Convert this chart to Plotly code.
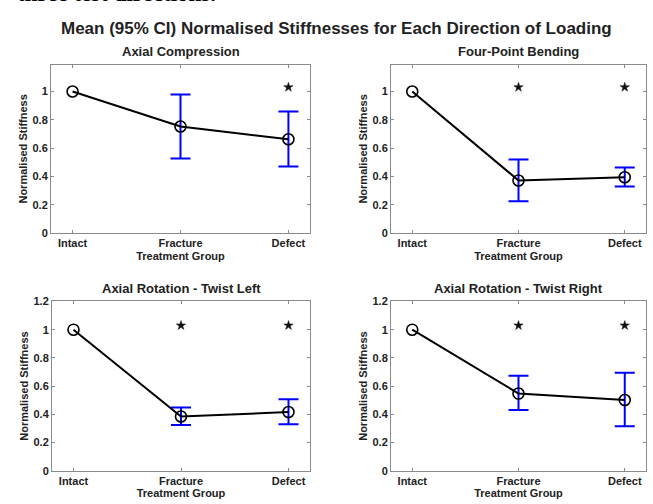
import plotly.graph_objects as go

# ---------------- data ----------------
groups = ["Intact", "Fracture", "Defect"]

panel_titles = [
    "Axial Compression",
    "Four-Point Bending",
    "Axial Rotation - Twist Left",
    "Axial Rotation - Twist Right",
]

# mean normalised stiffness per group
ac_mean = [1.00, 0.753, 0.663]
fpb_mean = [1.00, 0.372, 0.395]
tl_mean = [1.00, 0.384, 0.416]
tr_mean = [1.00, 0.547, 0.501]

# 95% CI bounds for Fracture and Defect (Intact is the reference, no CI)
ci_groups = ["Fracture", "Defect"]
ac_ci_low = [0.527, 0.471]
ac_ci_high = [0.979, 0.859]
fpb_ci_low = [0.226, 0.330]
fpb_ci_high = [0.520, 0.464]
tl_ci_low = [0.324, 0.329]
tl_ci_high = [0.448, 0.506]
tr_ci_low = [0.430, 0.315]
tr_ci_high = [0.674, 0.694]

# significance markers (*)
ac_sig = ["Defect"]
fpb_sig = ["Fracture", "Defect"]
tl_sig = ["Fracture", "Defect"]
tr_sig = ["Fracture", "Defect"]
sig_level = 1.03

y_ticks_top = [0, 0.2, 0.4, 0.6, 0.8, 1]
y_ticks_bottom = [0, 0.2, 0.4, 0.6, 0.8, 1, 1.2]

main_title = "Mean (95% CI) Normalised Stiffnesses for Each Direction of Loading"
x_title = "Treatment Group"
y_title = "Normalised Stiffness"
page_text = "three test directions."

# ---------------- layout geometry ----------------
W, H = 653, 504
FONT = "Arial, 'Liberation Sans', sans-serif"
TXT = "#222222"
AX = "#8a8a8a"

def px_x(p):
    return p / W

def px_y(p):
    return 1 - p / H

panels = [
    dict(mean=ac_mean, lo=ac_ci_low, hi=ac_ci_high, sig=ac_sig,
         xd=(51, 310), yd=(60, 232.7), yr=1.19, yt=y_ticks_top, ty=46.5),
    dict(mean=fpb_mean, lo=fpb_ci_low, hi=fpb_ci_high, sig=fpb_sig,
         xd=(391, 646), yd=(60, 232.7), yr=1.19, yt=y_ticks_top, ty=46.5),
    dict(mean=tl_mean, lo=tl_ci_low, hi=tl_ci_high, sig=tl_sig,
         xd=(52, 310), yd=(302.7, 476), yr=1.2, yt=y_ticks_bottom, ty=289.3),
    dict(mean=tr_mean, lo=tr_ci_low, hi=tr_ci_high, sig=tr_sig,
         xd=(391, 646), yd=(302.7, 476), yr=1.2, yt=y_ticks_bottom, ty=289.3),
]

fig = go.Figure()
annotations = []

for i, (p, title) in enumerate(zip(panels, panel_titles)):
    n = "" if i == 0 else str(i + 1)
    xa, ya = "x" + n, "y" + n
    ci_mean = [p["mean"][groups.index(g)] for g in ci_groups]
    # CI error bars
    fig.add_trace(go.Scatter(
        x=ci_groups, y=ci_mean, mode="markers",
        marker=dict(size=1, opacity=0),
        error_y=dict(type="data", symmetric=False,
                     array=[h - m for h, m in zip(p["hi"], ci_mean)],
                     arrayminus=[m - l for m, l in zip(ci_mean, p["lo"])],
                     color="#0000ff", thickness=2, width=10),
        xaxis=xa, yaxis=ya, showlegend=False, hoverinfo="skip"))
    # mean line + open circles
    fig.add_trace(go.Scatter(
        x=groups, y=p["mean"], mode="lines+markers",
        line=dict(color="black", width=2),
        marker=dict(symbol="circle-open", size=11, color="black",
                    line=dict(width=1.6, color="black")),
        xaxis=xa, yaxis=ya, showlegend=False))
    # significance stars
    fig.add_trace(go.Scatter(
        x=p["sig"], y=[sig_level] * len(p["sig"]), mode="markers",
        marker=dict(symbol="star", size=7, color="#111111",
                    line=dict(width=0.5, color="#111111")),
        xaxis=xa, yaxis=ya, showlegend=False))

    common = dict(showline=True, linecolor=AX, linewidth=1, mirror="ticks",
                  ticks="inside", ticklen=3, tickcolor=AX, showgrid=False,
                  zeroline=False,
                  tickfont=dict(family=FONT, size=11, color=TXT, weight="bold"))
    fig.layout["xaxis" + n] = dict(
        common, domain=[px_x(p["xd"][0]), px_x(p["xd"][1])],
        anchor=ya, type="category", categoryorder="array",
        categoryarray=groups, range=[-0.2, 2.2],
        title=dict(text=x_title, standoff=3,
                   font=dict(family=FONT, size=11, color=TXT, weight="bold")))
    fig.layout["yaxis" + n] = dict(
        common, domain=[px_y(p["yd"][1]), px_y(p["yd"][0])],
        anchor=xa, range=[0, p["yr"]], tickvals=p["yt"],
        title=dict(text=y_title, standoff=2,
                   font=dict(family=FONT, size=11, color=TXT, weight="bold")))
    annotations.append(dict(
        text=title, xref="paper", yref="paper",
        x=px_x((p["xd"][0] + p["xd"][1]) / 2), y=px_y(p["ty"]),
        xanchor="center", yanchor="middle", showarrow=False,
        font=dict(family=FONT, size=13, color=TXT, weight="bold")))

annotations.append(dict(
    text=main_title, xref="paper", yref="paper",
    x=px_x(336), y=px_y(23.5), xanchor="center", yanchor="middle",
    showarrow=False,
    font=dict(family=FONT, size=17, color=TXT, weight="bold")))
annotations.append(dict(
    text=page_text, xref="paper", yref="paper",
    x=px_x(15), y=px_y(2.5), xanchor="left", yanchor="bottom",
    showarrow=False,
    font=dict(family="'Times New Roman', 'Liberation Serif', serif",
              size=23, color="black", weight="bold")))

fig.update_layout(
    width=W, height=H, margin=dict(l=0, r=0, t=0, b=0),
    paper_bgcolor="white", plot_bgcolor="white",
    annotations=annotations, showlegend=False)

fig.write_html("out.html")
